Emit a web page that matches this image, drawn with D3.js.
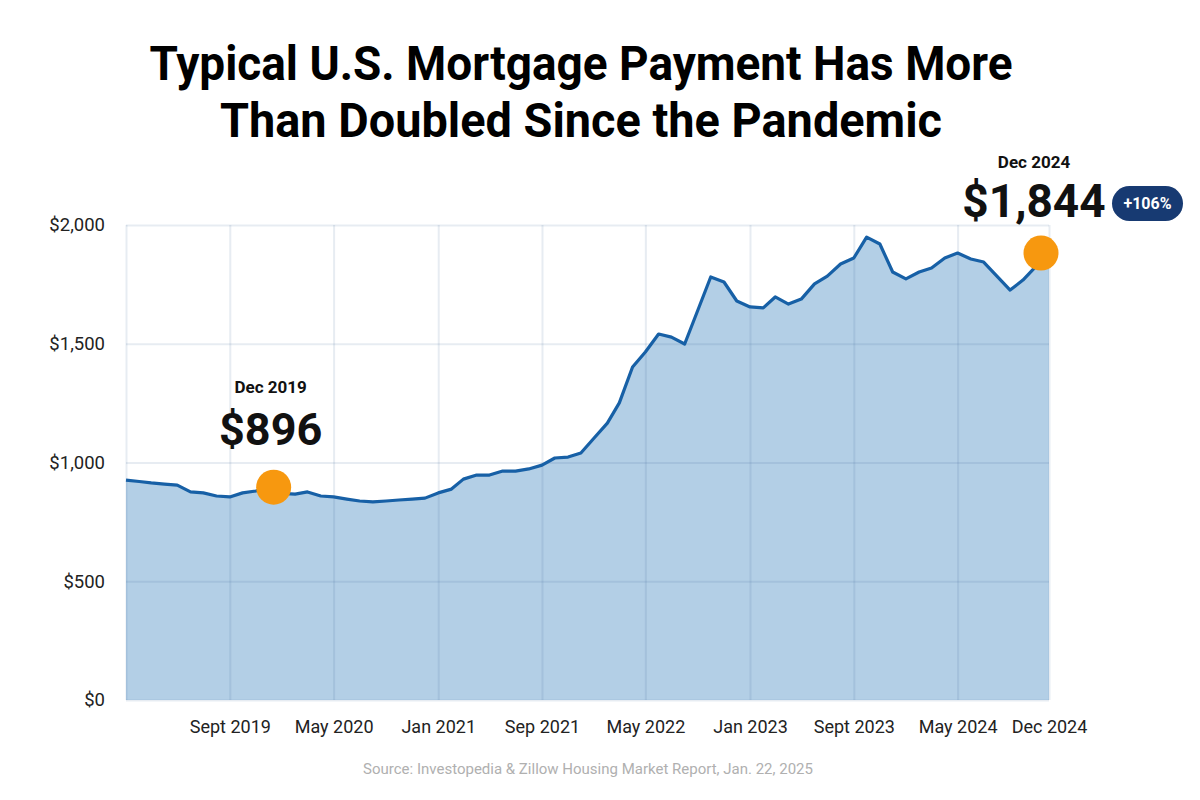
<!DOCTYPE html>
<html>
<head>
<meta charset="utf-8">
<script src="https://cdn.jsdelivr.net/npm/d3@7"></script>
<style>
  body { margin: 0; background: #fff; }
  svg { display: block; font-family: Roboto, "Noto Sans", sans-serif; }
</style>
</head>
<body>
<svg id="chart" width="1200" height="800"></svg>
<script>
// monthly typical mortgage payment, Jan 2019 .. Dec 2024
const months = d3.range(72).map(i => new Date(2019, i, 1));
const payments = [
  926, 920, 914, 909, 905, 876, 872, 859, 855, 872, 880, 896,
  870, 867, 876, 859, 855, 846, 838, 834, 838, 842, 846, 850,
  872, 888, 930, 947, 947, 964, 964, 973, 989, 1019, 1023, 1040,
  1103, 1166, 1251, 1402, 1465, 1541, 1528, 1499, 1642, 1781, 1760, 1680,
  1655, 1651, 1697, 1667, 1688, 1752, 1785, 1836, 1861, 1949, 1920, 1802,
  1773, 1802, 1819, 1861, 1882, 1857, 1844, 1785, 1726, 1768, 1827, 1882
];
const yTicks = [0, 500, 1000, 1500, 2000];
const xTickDates = [new Date(2019, 8, 1), new Date(2020, 4, 1), new Date(2021, 0, 1), new Date(2021, 8, 1),
  new Date(2022, 4, 1), new Date(2023, 0, 1), new Date(2023, 8, 1), new Date(2024, 4, 1), new Date(2024, 11, 1)];
const xTickLabels = ['Sept 2019', 'May 2020', 'Jan 2021', 'Sep 2021', 'May 2022', 'Jan 2023', 'Sept 2023', 'May 2024', 'Dec 2024'];
const titleLines = ['Typical U.S. Mortgage Payment Has More', 'Than Doubled Since the Pandemic'];
const highlights = [
  { index: 11, label: 'Dec 2019', value: '$896' },
  { index: 71, label: 'Dec 2024', value: '$1,844', change: '+106%' }
];

const svg = d3.select('#chart');
const margin = { top: 225, right: 151, bottom: 100, left: 126 };
const width = 1200 - margin.left - margin.right;
const height = 800 - margin.top - margin.bottom;

const x = d3.scaleTime().domain(d3.extent(months)).range([0, width]);
const y = d3.scaleLinear().domain([0, 2000]).range([height, 0]);

const g = svg.append('g').attr('transform', `translate(${margin.left},${margin.top})`);

// area + line
const data = months.map((d, i) => ({ date: d, value: payments[i] }));
g.append('path')
  .datum(data)
  .attr('fill', '#b3cfe6')
  .attr('d', d3.area().x(d => x(d.date)).y0(y(0)).y1(d => y(d.value)));

// grid (drawn over the fill, semi-transparent)
const gridColor = 'rgba(60,100,150,0.12)';
g.append('g')
  .call(d3.axisLeft(y).tickValues(yTicks).tickSize(-width).tickFormat(''))
  .call(a => a.select('.domain').remove())
  .selectAll('line').attr('stroke', gridColor).attr('stroke-width', 2);
g.append('g')
  .attr('transform', `translate(0,${height})`)
  .call(d3.axisBottom(x).tickValues([months[0]].concat(xTickDates)).tickSize(-height).tickFormat(''))
  .call(a => a.select('.domain').remove())
  .selectAll('line').attr('stroke', gridColor).attr('stroke-width', 2);

g.append('path')
  .datum(data)
  .attr('fill', 'none')
  .attr('stroke', '#1760a6')
  .attr('stroke-width', 3.2)
  .attr('stroke-linejoin', 'round')
  .attr('d', d3.line().x(d => x(d.date)).y(d => y(d.value)));

// y axis labels
const yAxis = g.append('g')
  .call(d3.axisLeft(y).tickValues(yTicks).tickSize(0).tickPadding(21).tickFormat(d => '$' + d3.format(',')(d)));
yAxis.select('.domain').remove();
yAxis.selectAll('text').attr('font-size', 18.5).attr('fill', '#222').attr('font-family', 'Roboto');

// x axis labels
const xAxis = g.append('g')
  .attr('transform', `translate(0,${height})`)
  .call(d3.axisBottom(x).tickValues(xTickDates).tickSize(0).tickPadding(20).tickFormat((d, i) => xTickLabels[i]));
xAxis.select('.domain').remove();
xAxis.selectAll('text').attr('font-size', 18).attr('fill', '#222').attr('font-family', 'Roboto');

// highlight dots
highlights.forEach(h => {
  const px = x(months[h.index]);
  const py = y(payments[h.index]);
  g.append('circle')
    .attr('cx', h.index === 71 ? px - 8 : px + 5)
    .attr('cy', py)
    .attr('r', 17.5)
    .attr('fill', '#f7980f');
});

// Dec 2019 annotation
const p0x = margin.left + x(months[11]) + 2;
svg.append('text').attr('x', p0x).attr('y', 393).attr('text-anchor', 'middle')
  .attr('font-size', 17).attr('font-weight', 700).attr('fill', '#111').text(highlights[0].label);
svg.append('text').attr('x', p0x).attr('y', 445).attr('text-anchor', 'middle')
  .attr('font-size', 45).attr('font-weight', 700).attr('fill', '#111').text(highlights[0].value);

// Dec 2024 annotation
const p1x = margin.left + x(months[71]) - 15;
svg.append('text').attr('x', p1x).attr('y', 168).attr('text-anchor', 'middle')
  .attr('font-size', 17).attr('font-weight', 700).attr('fill', '#111').text(highlights[1].label);
svg.append('text').attr('x', p1x).attr('y', 217).attr('text-anchor', 'middle')
  .attr('font-size', 46).attr('font-weight', 700).attr('fill', '#111').text(highlights[1].value);
svg.append('rect').attr('x', 1112).attr('y', 186).attr('width', 71).attr('height', 35).attr('rx', 17.5)
  .attr('fill', '#173a72');
svg.append('text').attr('x', 1147.5).attr('y', 209).attr('text-anchor', 'middle')
  .attr('font-size', 16).attr('font-weight', 700).attr('fill', '#fff').text(highlights[1].change);

// title
const titleWidths = [863, 722];
titleLines.forEach((t, i) => {
  svg.append('text')
    .attr('x', 581).attr('y', 80 + i * 57)
    .attr('text-anchor', 'middle')
    .attr('font-size', 49).attr('font-weight', 700).attr('fill', '#000')
    .attr('textLength', titleWidths[i]).attr('lengthAdjust', 'spacingAndGlyphs')
    .text(t);
});

// source
svg.append('text').attr('x', 588).attr('y', 774).attr('text-anchor', 'middle')
  .attr('font-size', 15).attr('fill', '#b0b0b0')
  .text('Source: Investopedia & Zillow Housing Market Report, Jan. 22, 2025');
</script>
</body>
</html>
